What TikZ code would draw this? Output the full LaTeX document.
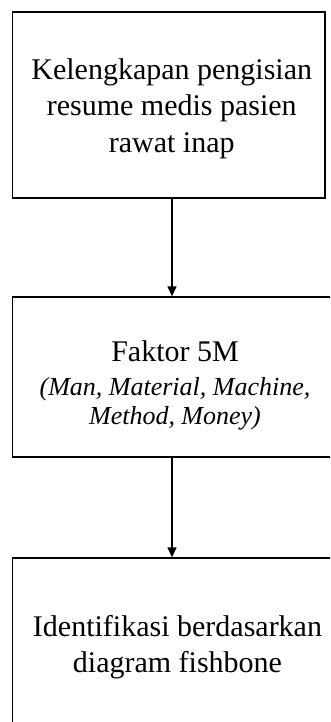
\documentclass[tikz,border=0pt]{standalone}
\usepackage{fontspec}
\setmainfont{Liberation Serif}
\usetikzlibrary{arrows.meta}

\begin{document}
\begin{tikzpicture}[
	x=1pt, y=1pt,
	flowbox/.style={ rectangle, draw, line width=1.3pt, inner sep=0pt },
	boxtext/.style={ align=center, inner sep=0pt, font=\fontsize{30}{36.5}\selectfont },
	flowarrow/.style={ line width=1.3pt, -{Triangle[width=9pt,length=10pt]} }
]

\useasboundingbox (0,0) rectangle (330,-722);
\clip (0,0) rectangle (330,-722);

\node[flowbox, minimum width=312.5pt, minimum height=186pt,
	label={[boxtext, xshift=3pt, yshift=-3.5pt]center:{Kelengkapan pengisian\\resume medis pasien\\rawat inap}}]
	at (168.75,-105) (fbox1) {};
\node[flowbox, minimum width=319pt, minimum height=160pt,
	label={[boxtext, xshift=3pt, yshift=-8pt]center:{Faktor 5M\\[-2pt]{\fontsize{26}{29}\selectfont\itshape (Man, Material, Machine,}\\[-8pt]{\fontsize{26}{29}\selectfont\itshape Method, Money)}}}]
	at (172,-377) (fbox2) {};
\node[flowbox, minimum width=319pt, minimum height=178pt,
	label={[boxtext, xshift=5.5pt]center:{Identifikasi berdasarkan\\diagram fishbone}}]
	at (172,-647) (fbox3) {};

\draw[flowarrow] (fbox1.south -| fbox2.north) -- (fbox2.north);
\draw[flowarrow] (fbox2.south) -- (fbox3.north);

\end{tikzpicture}
\end{document}
